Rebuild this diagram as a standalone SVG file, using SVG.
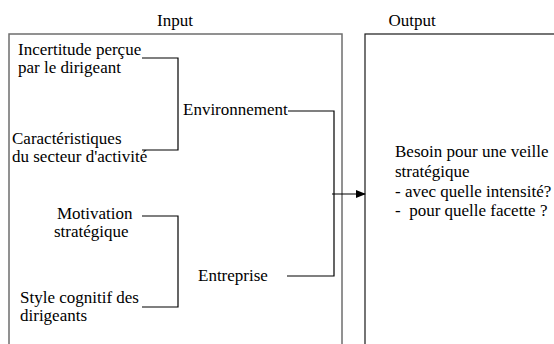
<svg xmlns="http://www.w3.org/2000/svg" width="554" height="344" viewBox="0 0 554 344">
  <defs>
    <style>
      .lbl { font-family: "Liberation Serif", Tinos, "Times New Roman", "DejaVu Serif", serif; font-size: 17px; fill: #000; }
      .box-in { fill: none; stroke: #6e6e6e; stroke-width: 1.5; }
      .box-out { fill: none; stroke: #1a1a1a; stroke-width: 1.2; }
      .wire { fill: none; stroke: #000; stroke-width: 1.2; }
    </style>
    <marker id="arrowhead" markerWidth="10" markerHeight="8" refX="9" refY="4" orient="auto" markerUnits="userSpaceOnUse">
      <path d="M0,0 L10,4 L0,8 Z" fill="#000"/>
    </marker>
  </defs>
  <rect width="554" height="344" fill="#fff"/>

  <g class="lbl">
    <!-- Input panel -->
    <g id="input">
      <text x="175" y="26" text-anchor="middle">Input</text>
      <rect class="box-in" x="9" y="34" width="333" height="330"/>
    </g>

    <!-- Output panel -->
    <g id="output">
      <text x="412" y="26" text-anchor="middle">Output</text>
      <rect class="box-out" x="365" y="34" width="200" height="330"/>
      <text x="395" y="157">Besoin pour une veille</text>
      <text x="395" y="177">stratégique</text>
      <text x="395" y="197">- avec quelle intensité?</text>
      <text x="395" y="216" xml:space="preserve">-  pour quelle facette ?</text>
    </g>

    <!-- Environment factors -->
    <g id="incertitude">
      <text x="18" y="55">Incertitude perçue</text>
      <text x="18" y="73">par le dirigeant</text>
    </g>
    <g id="caracteristiques">
      <text x="12" y="144">Caractéristiques</text>
      <text x="12" y="162">du secteur d'activité</text>
    </g>
    <g id="environnement">
      <text x="183" y="115">Environnement</text>
    </g>

    <!-- Company factors -->
    <g id="motivation">
      <text x="57" y="219">Motivation</text>
      <text x="54" y="237">stratégique</text>
    </g>
    <g id="style-cognitif">
      <text x="20" y="303">Style cognitif des</text>
      <text x="20" y="321">dirigeants</text>
    </g>
    <g id="entreprise">
      <text x="198" y="281">Entreprise</text>
    </g>
  </g>

  <!-- Connectors -->
  <g id="connectors">
    <polyline class="wire" points="142,58 178,58 178,150 142,150"/>
    <polyline class="wire" points="142,216 178,216 178,307 142,307"/>
    <polyline class="wire" points="288,111 334,111 334,276 287,276"/>
    <line class="wire" x1="332" y1="194" x2="365" y2="194" marker-end="url(#arrowhead)"/>
  </g>
</svg>
